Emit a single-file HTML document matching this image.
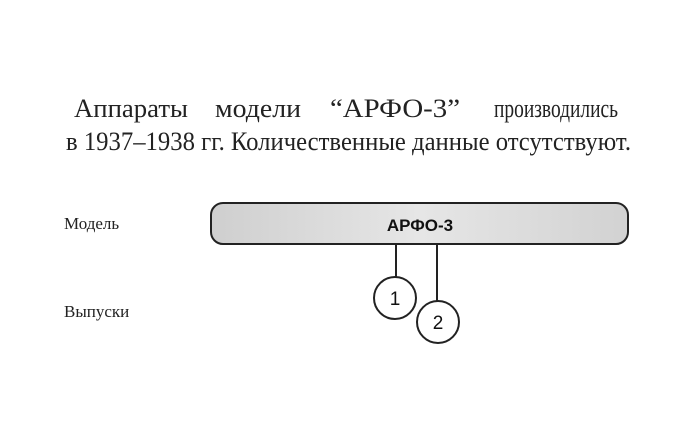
<!DOCTYPE html>
<html><head><meta charset="utf-8"><style>
html,body{margin:0;padding:0;background:#fff;}
svg{display:block}
</style></head><body>
<svg width="700" height="435" xmlns="http://www.w3.org/2000/svg">
<defs>
<linearGradient id="g" x1="0" x2="1">
<stop offset="0" stop-color="#cfcfcf"/><stop offset="0.5" stop-color="#e6e6e6"/><stop offset="1" stop-color="#d2d2d2"/>
</linearGradient>
</defs>
<g font-family="Liberation Serif, serif" font-size="26" fill="#222">
<text x="74" y="117" textLength="114" lengthAdjust="spacingAndGlyphs">Аппараты</text>
<text x="215" y="117" textLength="86" lengthAdjust="spacingAndGlyphs">модели</text>
<text x="330" y="117" textLength="130" lengthAdjust="spacingAndGlyphs">“АРФО-3”</text>
<text x="494" y="117" textLength="124" lengthAdjust="spacingAndGlyphs">производились</text>
<text x="66" y="150" textLength="565" lengthAdjust="spacingAndGlyphs">в 1937–1938 гг. Количественные данные отсутствуют.</text>
</g>
<g font-family="Liberation Serif, serif" font-size="17" fill="#222">
<text x="64" y="229">Модель</text>
<text x="64" y="317">Выпуски</text>
</g>
<rect x="211" y="203" width="417" height="41" rx="12" fill="url(#g)" stroke="#222" stroke-width="2"/>
<text x="420" y="231" text-anchor="middle" font-family="Liberation Sans, sans-serif" font-weight="bold" font-size="17" fill="#111">АРФО-3</text>
<line x1="396" y1="244" x2="396" y2="277" stroke="#222" stroke-width="2"/>
<line x1="437" y1="244" x2="437" y2="301" stroke="#222" stroke-width="2"/>
<circle cx="395" cy="298" r="21" fill="#fff" stroke="#222" stroke-width="2"/>
<circle cx="438" cy="322" r="21" fill="#fff" stroke="#222" stroke-width="2"/>
<text x="395" y="305" text-anchor="middle" font-family="Liberation Sans, sans-serif" font-size="19" fill="#111">1</text>
<text x="438" y="329" text-anchor="middle" font-family="Liberation Sans, sans-serif" font-size="19" fill="#111">2</text>
</svg>
</body></html>
